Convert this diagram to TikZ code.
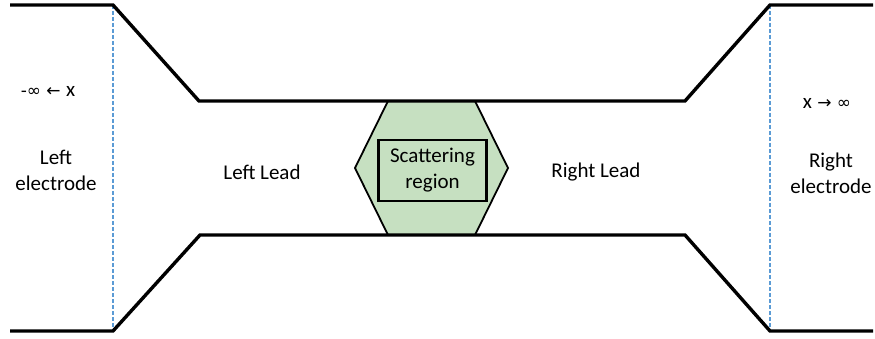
\documentclass[tikz,border=0pt]{standalone}
\usepackage{fontspec}
\setmainfont{Carlito}
\newfontfamily\symfont{DejaVu Sans}
\definecolor{wall}{HTML}{000000}
\definecolor{cut}{HTML}{5B9BD5}
\definecolor{scatfill}{HTML}{C6E0C1}
\begin{document}
\begin{tikzpicture}[x=1pt,y=-1pt,
  wallline/.style={draw=wall,line width=3.4pt,line join=miter},
  cutline/.style={draw=cut,line width=1.3pt,dash pattern=on 4pt off 2pt},
  label/.style={font=\fontsize{21}{26}\selectfont,align=center,inner sep=0pt}]
  \useasboundingbox (0,0) rectangle (875,339);
  % outline of the device, top edge
  \coordinate (tl0) at (10,5);
  \coordinate (tl1) at (113,5);
  \coordinate (tl2) at (199,101);
  \coordinate (tr2) at (685,101);
  \coordinate (tr1) at (770,5);
  \coordinate (tr0) at (873,5);
  % bottom edge
  \coordinate (bl0) at (10,331);
  \coordinate (bl1) at (113,331);
  \coordinate (bl2) at (200,235);
  \coordinate (br2) at (685,235);
  \coordinate (br1) at (770,331);
  \coordinate (br0) at (873,331);
  % scattering region hexagon
  \coordinate (h1) at (388,101);
  \coordinate (h2) at (475,101);
  \coordinate (h3) at (508,168);
  \coordinate (h4) at (475,235);
  \coordinate (h5) at (388,235);
  \coordinate (h6) at (355,168);
  \fill[scatfill] (h1) -- (h2) -- (h3) -- (h4) -- (h5) -- (h6) -- cycle;
  \draw[line width=1.8pt] (h2) -- (h3) -- (h4) (h5) -- (h6) -- (h1);
  % electrode/lead boundaries
  \draw[cutline] (tl1) -- (bl1);
  \draw[cutline] (tr1) -- (br1);
  \draw[wallline] (tl0) -- (tl1) -- (tl2) -- (tr2) -- (tr1) -- (tr0);
  \draw[wallline] (bl0) -- (bl1) -- (bl2) -- (br2) -- (br1) -- (br0);
  % inner box with label
  \node[draw,line width=2.8pt,minimum width=108pt,minimum height=61pt,
        label] (scat) at (432.5,170.5) {Scattering\\region};
  % labels
  \node[label] (linf) at (48,91) {{\symfont\fontsize{17}{20}\selectfont -∞ ← }x};
  \node[label] (lel) at (56,170) {Left\\electrode};
  \node[label] (llead) at (262,172) {Left Lead};
  \node[label] (rlead) at (596,172) {Right Lead};
  \node[label] (rinf) at (827,103) {x{\symfont\fontsize{17}{20}\selectfont{} → ∞}};
  \node[label] (rel) at (831,173) {Right\\electrode};
\end{tikzpicture}
\end{document}
